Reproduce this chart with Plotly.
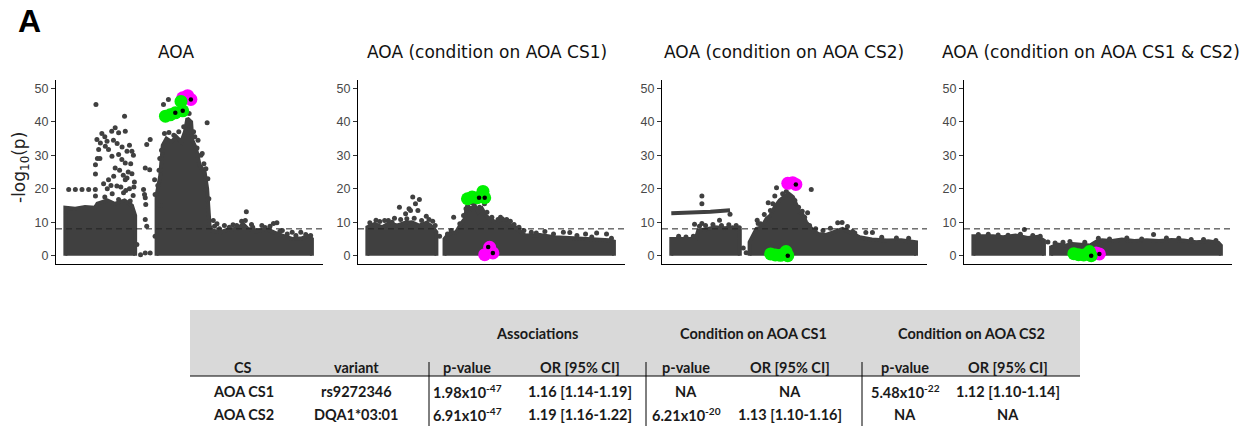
import plotly.graph_objects as go

FIG_W, FIG_H = 1255, 426
GRAY = "#404040"
GREEN = "#00f000"
MAGENTA = "#ff00ff"
SIG_LINE = 8  # genome-wide threshold on -log10(p)

# ---------------- Panel 1: AOA ----------------
aoa_mass_x = [0, 0, 4, 8, 12, 13, 17, 20, 24, 27, 28.3, 28.3, None,
              37.0, 37.0, 38.5, 39.5, 41, 43, 45, 47, 48.5, 49.5, 51, 51.5, 53, 54.5, 56.5, 57.5, 58,
              58.5, 59.4, 63, 66, 70, 72, 74, 78, 82, 86, 89, 92, 96, 98.5, 100, 100]
aoa_mass_y = [0, 14.3, 14.0, 14.5, 14.3, 15.5, 16.5, 15.5, 16.5, 15.0, 12.0, 0, None,
              0, 18, 24, 33, 35, 34, 35.5, 34, 37, 41, 40, 34.5, 32, 27, 25, 20, 14.5,
              9, 7.5, 7.0, 7.8, 8.0, 9.5, 8.0, 7.5, 7.8, 6.5, 5.8, 5.0, 5.2, 5.8, 5.0, 0]
aoa_pts_x = [1.35, 4.05, 6.75, 9.45, 12.15, 12.2, 12.4, 24.0, 20.2, 18.8, 21.6, 24.3,
             12.8, 14.2, 16.2, 17.5, 13.5, 16.9, 12.2, 12.2, 18.9, 21.6, 22.9, 24.3, 27.0, 25.0,
             20.2, 19.6, 17.5, 24.3, 25.0, 20.9, 23.6, 21.6, 26.3, 27.8, 14.0,
             15.5, 17.0, 18.5, 22.5, 24.5, 26.0, 27.5, 19.0, 16.0, 25.5, 26.5, 23.0, 26.0,
             27.6, 19.5, 21.0, 14.8, 16.0, 13.0, 22.0, 23.5, 28.0, 27.0,
             34.4, 33.0, 32.4, 34.2, 36.2, 31.7, 32.1, 32.4, 36.4, 32.6, 32.4, 33.0, 32.4, 34.4,
             36.4, 29.0, 30.5, 39.8, 41.8, 57.5, 53.4, 56.7, 52.5, 55.5, 56.2, 58.2,
             38.0, 38.3, 39.0, 40.2, 42.0, 44.0, 46.0, 48.0, 50.2, 52.0, 53.8, 55.0, 57.0,
             57.8, 37.5, 38.5,
             60.0, 61.5, 64.5, 68.0, 71.5, 73.4, 75.5, 77.6, 79.7, 84.4, 85.8, 88.0, 92.0, 95.5,
             60.5, 62.5, 66.5, 69.5, 73.0, 76.0, 81.0, 83.0, 87.0, 90.0, 93.5, 97.5, 99.5]
aoa_pts_y = [19.8, 19.8, 19.8, 19.8, 19.8, 17.8, 45.2, 41.7, 38.2, 37.2, 36.7, 37.2,
             34.7, 33.7, 32.7, 31.7, 31.7, 34.2, 27.2, 24.4, 29.7, 30.2, 28.7, 27.7, 31.2, 31.2,
             26.2, 23.7, 22.7, 22.7, 23.2, 20.8, 18.8, 16.8, 16.3, 20.5, 29.0,
             21.5, 20.0, 21.0, 20.5, 19.5, 20.0, 18.0, 18.5, 17.5, 25.0, 27.5, 32.5, 33.0,
             30.0, 34.5, 33.5, 36.5, 35.5, 29.0, 25.5, 24.0, 22.0, 24.5,
             34.7, 33.2, 26.2, 25.7, 22.7, 19.8, 18.3, 17.3, 18.3, 15.3, 10.8, 8.8, 0.8, 0.8,
             5.8, 3.3, 0.3, 45.2, 46.7, 39.7, 32.2, 19.8, 35.5, 30.5, 27.5, 17.0,
             25.5, 29.0, 31.5, 36.5, 36.8, 36.0, 37.0, 38.5, 42.5, 37.0, 34.5, 30.0, 26.0,
             23.0, 21.0, 15.0,
             10.5, 9.5, 9.0, 9.2, 10.3, 13.1, 9.3, 7.3, 9.0, 9.6, 9.8, 7.5, 7.0, 7.0,
             8.8, 8.0, 8.5, 9.0, 10.5, 8.5, 8.4, 8.8, 7.2, 6.5, 6.0, 6.3, 6.0]

# ---------------- Panel 2: conditioned on CS1 ----------------
c1_mass_x = [0, 0, 3, 6, 9, 12, 15, 18, 21, 24, 26.5, 28, 28, None,
             31.3, 31.3, 33, 36, 38, 39.5, 40.5, 42, 43.5, 45, 46.5, 48, 49.5, 52, 55, 57, 60,
             62.5, 64, 70, 76, 82, 88, 94, 98, 100, 100]
c1_mass_y = [0, 8.5, 9.5, 8.5, 9.8, 9.0, 9.8, 10.0, 9.0, 9.8, 8.5, 7.0, 0, None,
             0, 5, 6.5, 7, 9.5, 11, 15, 14, 15, 13, 14, 12, 11, 10, 11, 9.5, 8.5,
             7, 6, 6.2, 5.5, 5.3, 5.0, 4.5, 4.6, 4.2, 0]
c1_pts_x = [18.4, 21.1, 13.0, 16.9, 17.5, 19.5, 20.5, 23.9, 15.5, 11.0, 7.0, 3.5, 26.5,
            29.3, 35.0, 53.0, 56.5, 58.0, 66.5, 72.0, 79.5, 82.1, 88.5, 93.0, 97.0, 37.5, 41.5,
            1.0, 5.0, 8.5, 10.0, 13.5, 16.0, 19.0, 22.0, 25.0, 27.5,
            39.0, 40.0, 42.5, 44.0, 45.5, 47.5, 48.5, 50.5, 54.0, 59.5, 61.5, 63.5, 68.5,
            75.5, 85.0, 91.0, 99.0, 32.5, 34.0]
c1_pts_y = [17.5, 16.8, 14.5, 14.0, 13.5, 15.5, 13.5, 11.8, 12.5, 11.2, 10.5, 10.6, 10.3,
            5.8, 11.5, 10.8, 10.8, 10.3, 7.0, 7.2, 7.0, 6.9, 6.5, 6.8, 6.5, 9.5, 16.0,
            9.8, 10.2, 10.5, 10.0, 10.8, 11.0, 11.2, 10.5, 10.8, 9.0,
            12.0, 14.0, 15.8, 16.0, 14.5, 15.5, 13.0, 11.5, 11.5, 9.3, 8.5, 7.5, 6.8,
            6.5, 6.0, 5.6, 5.2, 6.5, 7.5]

# ---------------- Panel 3: conditioned on CS2 ----------------
c2_mass_x = [0, 0, 10, 11, 15, 18, 22, 25, 28, 28, None,
             32, 32, 34.8, 37, 38.9, 40.5, 42.3, 44.3, 46, 48, 49.7, 51, 52.4, 53.5, 55.1, 57.9,
             60, 63.3, 67, 70, 73, 77, 82, 88, 94, 98, 100, 100]
c2_mass_y = [0, 5.0, 5.0, 7.5, 8.0, 8.5, 8.2, 8.5, 7.5, 0, None,
             0, 4, 8, 8.5, 11, 12, 14.5, 16.5, 17.5, 18.5, 17.5, 15, 13, 12.5, 10, 7.5,
             6.5, 6.2, 7.2, 8.0, 7.0, 5.5, 4.8, 4.5, 4.6, 4.3, 4.0, 0]
c2_streak_x = [0, 8, 16, 24]
c2_streak_y = [12.7, 12.8, 13.1, 13.6]
c2_pts_x = [12.5, 12.5, 19.7, 12.5, 9.5, 24.0, 29.4, 30.6, 35.1, 39.6, 42.3, 43.0, 57.2,
            55.7, 35.5, 68.0, 69.8, 71.5, 74.1, 79.5, 82.2, 53.5,
            11.5, 14.0, 17.0, 20.5, 23.5, 26.5, 27.8, 3.0, 6.0, 9.0,
            36.5, 38.0, 40.5, 41.5, 45.5, 47.0, 50.5, 52.0, 54.5, 56.5, 59.0, 62.0, 65.0,
            72.0, 75.0, 86.0, 92.0, 97.0]
c2_pts_y = [17.8, 15.5, 10.6, 9.6, 9.4, 12.4, 2.3, 0.9, 10.6, 15.8, 17.8, 20.3, 19.8,
            12.8, 9.6, 9.8, 9.9, 7.7, 7.2, 6.9, 6.9, 13.3,
            8.8, 9.0, 9.3, 9.0, 9.2, 9.0, 8.3, 5.8, 5.6, 5.8,
            9.5, 12.3, 13.5, 15.5, 18.5, 19.2, 16.5, 14.5, 11.5, 9.0, 8.0, 7.5, 8.2,
            8.7, 6.8, 5.5, 5.3, 5.2]

# ---------------- Panel 4: conditioned on CS1 & CS2 ----------------
c12_mass_x = [0, 0, 8, 12, 17, 22, 26, 28.5, 28.5, None,
              31.4, 31.4, 34, 37, 40, 44, 47, 49.7, 52, 56, 60, 65, 70, 75, 80, 85, 90, 95, 99, 100, 100]
c12_mass_y = [0, 5.8, 5.8, 5.5, 6.0, 5.3, 5.6, 4.5, 0, None,
              0, 2.5, 3.3, 3.0, 3.5, 3.2, 3.0, 4.2, 4.6, 4.4, 4.8, 4.4, 4.6, 4.4, 4.7, 4.5, 4.0, 4.3, 3.8, 3.0, 0]
c12_pts_x = [20.6, 30.1, 36.2, 72.8, 50.5,
             2.0, 6.0, 10.0, 14.0, 19.0, 24.0, 27.0,
             33.0, 39.0, 45.0, 55.0, 62.0, 68.0, 78.0, 83.0, 88.0, 93.0, 98.0]
c12_pts_y = [7.8, 4.1, 4.0, 6.3, 5.2,
             6.3, 6.4, 6.2, 6.1, 6.4, 6.0, 5.8,
             3.8, 4.2, 4.0, 5.0, 5.3, 5.0, 5.3, 5.2, 4.8, 4.8, 4.5]

# ---------------- credible-set variants ----------------
cs1_pos = [47.6, 49.6, 50.9]                 # magenta
cs2_pos = [40.6, 42.5, 44.6, 46.9, 47.6]     # green
cs1_logp = {"aoa": [47.2, 47.8, 46.7], "c1": [0.3, 2.5, 0.8],
            "c2": [21.6, 21.8, 21.3], "c12": [0.3, 0.8, 0.5]}
cs2_logp = {"aoa": [41.7, 42.1, 42.7, 46.1, 43.3], "c1": [17.0, 17.5, 17.3, 19.2, 17.3],
            "c2": [0.5, 0.2, 0.1, 1.2, 0.0], "c12": [0.6, 0.3, 0.2, 1.2, 0.0]}
lead_x = {"aoa": [44.6, 47.6, 50.9], "c1": [45.3, 47.6, 49.0, 50.9],
          "c2": [47.6, 50.9], "c12": [47.6, 50.9]}
lead_y = {"aoa": [42.7, 43.3, 46.7], "c1": [17.3, 17.3, 2.6, 0.8],
          "c2": [0.0, 21.3], "c12": [0.0, 0.5]}

panel_titles = ["AOA", "AOA (condition on AOA CS1)", "AOA (condition on AOA CS2)",
                "AOA (condition on AOA CS1 & CS2)"]
y_ticks = [0, 10, 20, 30, 40, 50]

# ---------------- table ----------------
tbl_groups = ["Associations", "Condition on AOA CS1", "Condition on AOA CS2"]
tbl_cols = ["CS", "variant", "p-value", "OR [95% CI]", "p-value", "OR [95% CI]",
            "p-value", "OR [95% CI]"]
cs_names = ["AOA CS1", "AOA CS2"]
variants = ["rs9272346", "DQA1*03:01"]
assoc_p = ["1.98x10<sup>-47</sup>", "6.91x10<sup>-47</sup>"]
assoc_or = ["1.16 [1.14-1.19]", "1.19 [1.16-1.22]"]
cond1_p = ["NA", "6.21x10<sup>-20</sup>"]
cond1_or = ["NA", "1.13 [1.10-1.16]"]
cond2_p = ["5.48x10<sup>-22</sup>", "NA"]
cond2_or = ["1.12 [1.10-1.14]", "NA"]


def fx(px):
    return px / FIG_W


def fy(py):
    return 1 - py / FIG_H


panels = [
    ("aoa", aoa_mass_x, aoa_mass_y, aoa_pts_x, aoa_pts_y, None, None),
    ("c1", c1_mass_x, c1_mass_y, c1_pts_x, c1_pts_y, None, None),
    ("c2", c2_mass_x, c2_mass_y, c2_pts_x, c2_pts_y, c2_streak_x, c2_streak_y),
    ("c12", c12_mass_x, c12_mass_y, c12_pts_x, c12_pts_y, None, None),
]
x_domains_px = [(56, 323), (358, 625), (662, 927), (964, 1232)]
title_cx = [176, 487, 784, 1091]
plot_top, plot_bottom = 80, 264

fig = go.Figure()
layout_axes = {}
shapes = []
annotations = []

for i, (key, mx, my, px_, py_, sx, sy) in enumerate(panels):
    n = "" if i == 0 else str(i + 1)
    xa, ya = "x" + n, "y" + n
    fig.add_trace(go.Scatter(x=mx, y=my, xaxis=xa, yaxis=ya, mode="lines", fill="toself",
                             fillcolor=GRAY, line=dict(color=GRAY, width=4),
                             hoverinfo="skip", showlegend=False))
    if sx is not None:
        fig.add_trace(go.Scatter(x=sx, y=sy, xaxis=xa, yaxis=ya, mode="lines",
                                 line=dict(color=GRAY, width=4), showlegend=False))
    fig.add_trace(go.Scatter(x=px_, y=py_, xaxis=xa, yaxis=ya, mode="markers",
                             marker=dict(color=GRAY, size=5), showlegend=False))
    fig.add_trace(go.Scatter(x=cs1_pos, y=cs1_logp[key], xaxis=xa, yaxis=ya, mode="markers",
                             marker=dict(color=MAGENTA, size=13), showlegend=False))
    fig.add_trace(go.Scatter(x=cs2_pos, y=cs2_logp[key], xaxis=xa, yaxis=ya, mode="markers",
                             marker=dict(color=GREEN, size=13), showlegend=False))
    fig.add_trace(go.Scatter(x=lead_x[key], y=lead_y[key], xaxis=xa, yaxis=ya, mode="markers",
                             marker=dict(color="black", size=4.5), showlegend=False))

    x0, x1 = x_domains_px[i]
    layout_axes["xaxis" + n] = dict(domain=[fx(x0), fx(x1)], range=[-3.8, 104.5], anchor=ya,
                                    showline=True, linecolor="black", linewidth=1.1,
                                    showgrid=False, zeroline=False, showticklabels=False,
                                    ticks="", fixedrange=True)
    layout_axes["yaxis" + n] = dict(domain=[fy(plot_bottom), fy(plot_top)], range=[-2.5, 52.5],
                                    anchor=xa, showline=True, linecolor="black", linewidth=1.1,
                                    showgrid=False, zeroline=False, tickvals=y_ticks,
                                    ticks="outside", ticklen=4, tickcolor="#333333",
                                    tickfont=dict(family="Liberation Sans", size=12.5,
                                                  color="#484848"))
    shapes.append(dict(type="line", xref=xa + " domain", yref=ya, x0=0, x1=1,
                       y0=SIG_LINE, y1=SIG_LINE, layer="above",
                       line=dict(color="#222222", width=1, dash="6px,4px")))
    annotations.append(dict(text=panel_titles[i], x=fx(title_cx[i]), y=fy(52),
                            xref="paper", yref="paper", showarrow=False,
                            xanchor="center", yanchor="middle",
                            font=dict(family="DejaVu Sans", size=17, color="#111111")))

# panel letter and shared y-axis title
annotations.append(dict(text="<b>A</b>", x=fx(29), y=fy(21), xref="paper", yref="paper",
                        showarrow=False, xanchor="center", yanchor="middle",
                        font=dict(family="Liberation Sans", size=32, color="black")))
annotations.append(dict(text="-log<sub>10</sub>(p)", x=fx(21), y=fy(168), xref="paper",
                        yref="paper", showarrow=False, textangle=-90,
                        xanchor="center", yanchor="middle",
                        font=dict(family="DejaVu Sans", size=17, color="#222222")))

# ---- table drawing ----
T_L, T_R = 190, 1080
HDR_TOP, HDR_BOT = 310, 376
shapes.append(dict(type="rect", xref="paper", yref="paper", x0=fx(T_L), x1=fx(T_R),
                   y0=fy(HDR_BOT), y1=fy(HDR_TOP), fillcolor="#d9d9d9",
                   line=dict(width=0), layer="below"))
shapes.append(dict(type="line", xref="paper", yref="paper", x0=fx(T_L), x1=fx(T_R),
                   y0=fy(HDR_BOT), y1=fy(HDR_BOT), line=dict(color="black", width=1)))
for vx in (429, 646, 862):
    shapes.append(dict(type="line", xref="paper", yref="paper", x0=fx(vx), x1=fx(vx),
                       y0=fy(426), y1=fy(362), line=dict(color="black", width=1)))

tfont = dict(family="Lato", size=14.5, color="#1a1a1a")
group_cx = [537, 753, 971]
for g, cx in zip(tbl_groups, group_cx):
    annotations.append(dict(text="<b>" + g + "</b>", x=fx(cx), y=fy(333), xref="paper",
                            yref="paper", showarrow=False, xanchor="center",
                            yanchor="middle", font=tfont))
col_cx = [243, 356, 467, 580, 686, 790, 905, 1008]
for c, cx in zip(tbl_cols, col_cx):
    annotations.append(dict(text="<b>" + c + "</b>", x=fx(cx), y=fy(367), xref="paper",
                            yref="paper", showarrow=False, xanchor="center",
                            yanchor="middle", font=tfont))
row_cy = [391, 414]
columns = [cs_names, variants, assoc_p, assoc_or, cond1_p, cond1_or, cond2_p, cond2_or]
for r, cy in enumerate(row_cy):
    for col, cx in zip(columns, col_cx):
        annotations.append(dict(text="<b>" + col[r] + "</b>", x=fx(cx), y=fy(cy),
                                xref="paper", yref="paper", showarrow=False,
                                xanchor="center", yanchor="middle", font=tfont))

fig.update_layout(width=FIG_W, height=FIG_H, margin=dict(l=0, r=0, t=0, b=0),
                  paper_bgcolor="white", plot_bgcolor="white", showlegend=False,
                  shapes=shapes, annotations=annotations, **layout_axes)

fig.write_html("out.html", config={"displayModeBar": False})
